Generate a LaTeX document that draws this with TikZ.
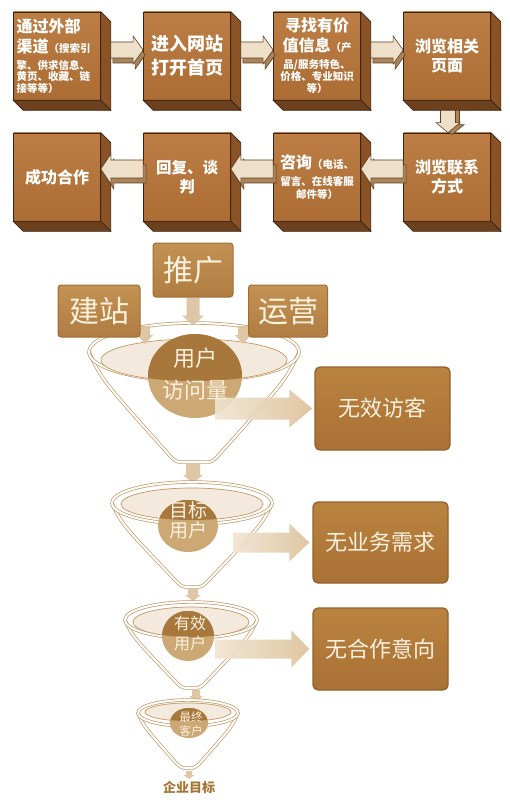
\documentclass[tikz,border=0pt]{standalone}
\usepackage{fontspec}
\setmainfont{Noto Sans CJK SC}
\usetikzlibrary{calc}
\setlength\parindent{0pt}
\setlength\parskip{0pt}
\definecolor{face}{HTML}{AC6D35}
\definecolor{facetop}{HTML}{BC7E44}
\definecolor{sidec}{HTML}{8A5326}
\definecolor{bottomc}{HTML}{6E411E}
\definecolor{edge}{HTML}{3A2312}
\definecolor{arrfill}{HTML}{EEDFC8}
\definecolor{arrside}{HTML}{A98458}
\definecolor{arredge}{HTML}{5E4026}
\definecolor{srctop}{HTML}{C29252}
\definecolor{srcbot}{HTML}{B07D42}
\definecolor{srcedge}{HTML}{A06E34}
\definecolor{restop}{HTML}{B9833F}
\definecolor{resbot}{HTML}{A97135}
\definecolor{resedge}{HTML}{93622C}
\definecolor{goldtext}{HTML}{FCF1DE}
\definecolor{fun}{HTML}{C39763}
\definecolor{funfill}{HTML}{F3EADD}
\definecolor{circdark}{HTML}{A8773C}
\definecolor{circlight}{HTML}{CCA874}
\definecolor{bigarr}{HTML}{DCC099}
\definecolor{bigarrl}{HTML}{F1E4D1}
\definecolor{smallarr}{HTML}{DCC19C}
\definecolor{targettext}{HTML}{A37434}
\tikzset{
  face/.style={draw=edge, line width=0.7pt, top color=facetop, bottom color=face,
    minimum width=87pt, minimum height=88pt, inner sep=0pt, text width=81pt,
    text=white, font=\bfseries},
  sideface/.style={fill=sidec, draw=edge, line width=0.7pt},
  botface/.style={fill=bottomc, draw=edge, line width=0.7pt},
  toparrow/.style={fill=arrfill, draw=arredge, line width=0.6pt},
  toparrowside/.style={fill=arrside, draw=arredge, line width=0.6pt},
  srcbox/.style={draw=srcedge, line width=1pt, top color=srctop, bottom color=srcbot,
    rounded corners=3pt, text=goldtext, font=\fontsize{30}{32}\selectfont, inner sep=0pt},
  resbox/.style={draw=resedge, line width=1.3pt, top color=restop, bottom color=resbot,
    rounded corners=5pt, text=goldtext, font=\fontsize{22}{24}\selectfont, inner sep=0pt,
    minimum width=135pt},
  funline/.style={draw=fun, line width=0.7pt, double=white, double distance=2pt},
  funinner/.style={fill=funfill, draw=fun, line width=0.7pt},
  circtext/.style={text=goldtext, align=center, inner sep=0pt},
  smallarrow/.style={fill=smallarr, fill opacity=0.9},
  bigarrow/.style={left color=bigarrl, right color=bigarr, fill opacity=0.9},
}
\newcommand\cubesides[1]{%
  \draw[sideface] (#1.north east) -- ++(10,10) -- ($(#1.south east)+(10,10)$) -- (#1.south east) -- cycle;
  \draw[botface] (#1.south west) -- ++(10,10) -- ($(#1.south east)+(10,10)$) -- (#1.south east) -- cycle;
}
\newcommand\tdRarrow[2]{%
  \path[toparrowside] let \p1=(#1), \p2=(#2) in
    ({\x1+2pt},{\y1+3pt}) -- ({\x2-8pt},{\y1+3pt}) -- ({\x2-8pt},{\y1+9pt}) -- ({\x2+2pt},{\y1-5pt})
    -- ({\x2-8pt},{\y1-19pt}) -- ({\x2-8pt},{\y1-13pt}) -- ({\x1+2pt},{\y1-13pt}) -- cycle;
  \path[toparrow] let \p1=(#1), \p2=(#2) in
    (\x1,{\y1+8pt}) -- ({\x2-10pt},{\y1+8pt}) -- ({\x2-10pt},{\y1+14pt}) -- (\x2,\y1)
    -- ({\x2-10pt},{\y1-14pt}) -- ({\x2-10pt},{\y1-8pt}) -- (\x1,{\y1-8pt}) -- cycle;
}
\newcommand\tdLarrow[2]{%
  \path[toparrowside] let \p1=(#1), \p2=(#2) in
    ({\x1+3pt},{\y1+4pt}) -- ({\x2+13pt},{\y1+4pt}) -- ({\x2+13pt},{\y1+10pt}) -- ({\x2+3pt},{\y1-5pt})
    -- ({\x2+13pt},{\y1-20pt}) -- ({\x2+13pt},{\y1-14pt}) -- ({\x1+3pt},{\y1-14pt}) -- cycle;
  \path[toparrow] let \p1=(#1), \p2=(#2) in
    (\x1,{\y1+9pt}) -- ({\x2+10pt},{\y1+9pt}) -- ({\x2+10pt},{\y1+15pt}) -- (\x2,\y1)
    -- ({\x2+10pt},{\y1-15pt}) -- ({\x2+10pt},{\y1-9pt}) -- (\x1,{\y1-9pt}) -- cycle;
}
\newcommand\tdDarrow[2]{%
  \path[toparrowside] let \p1=(#1), \p2=(#2) in
    ({\x1-3.5pt},\y1) -- ({\x1-3.5pt},{\y2+8pt}) -- ({\x1-8pt},{\y2+8pt}) -- ({\x1+4pt},{\y2-2pt})
    -- ({\x1+16pt},{\y2+8pt}) -- ({\x1+11.5pt},{\y2+8pt}) -- ({\x1+11.5pt},\y1) -- cycle;
  \path[toparrow] let \p1=(#1), \p2=(#2) in
    ({\x1-7.5pt},\y1) -- ({\x1-7.5pt},{\y2+10pt}) -- ({\x1-12pt},{\y2+10pt}) -- (\x1,\y2)
    -- ({\x1+12pt},{\y2+10pt}) -- ({\x1+7.5pt},{\y2+10pt}) -- ({\x1+7.5pt},\y1) -- cycle;
}
\newcommand\flatDarrow[5]{%
  \path[smallarrow] let \p1=(#1), \p2=(#2) in
    ({\x1-#3pt},\y1) -- ({\x1-#3pt},{\y2+#5pt}) -- ({\x1-#4pt},{\y2+#5pt}) -- (\x1,\y2)
    -- ({\x1+#4pt},{\y2+#5pt}) -- ({\x1+#3pt},{\y2+#5pt}) -- ({\x1+#3pt},\y1) -- cycle;
}
\newcommand\bigRarrow[5]{%
  \path[bigarrow] let \p1=(#1), \p2=(#2) in
    (\x1,{\y2+#3pt}) -- ({\x2-#5pt},{\y2+#3pt}) -- ({\x2-#5pt},{\y2+#4pt}) -- (\x2,\y2)
    -- ({\x2-#5pt},{\y2-#4pt}) -- ({\x2-#5pt},{\y2-#3pt}) -- (\x1,{\y2-#3pt}) -- cycle;
}
% #1 cx #2 rim cy #3 rim rx #4 rim ry #5 inner cy #6 inner rx #7 inner ry #8 bottom y #9 bottom half width
\newcommand\funnel[9]{%
  \draw[funline] ({#1-#3},#2) .. controls ({#1-#3+0.12*#3},{#2+0.25*(#8-#2)}) .. ({#1-#9-5},{#8-4})
    .. controls ({#1-#9},#8) .. ({#1-#9+5},#8) -- ({#1+#9-5},#8)
    .. controls ({#1+#9},#8) .. ({#1+#9+5},{#8-4})
    .. controls ({#1+#3-0.12*#3},{#2+0.25*(#8-#2)}) .. ({#1+#3},#2);
  \draw[funline] (#1,#2) ellipse [x radius=#3, y radius=#4];
  \path[funinner] (#1,#5) ellipse [x radius=#6, y radius=#7];
}
% #1 cx #2 cy #3 rx #4 ry ; #5 clip cx #6 clip cy #7 clip rx #8 clip ry
\newcommand\ball[8]{%
  \fill[circlight] (#1,#2) ellipse [x radius=#3, y radius=#4];
  \begin{scope}
    \clip (#5,#6) ellipse [x radius=#7, y radius=#8];
    \fill[circdark] (#1,#2) ellipse [x radius=#3, y radius=#4];
  \end{scope}
  \begin{scope}
    \clip ({#1-#3-2},{#2-#4-2}) rectangle ({#1+#3+2},#6);
    \fill[circdark] (#1,#2) ellipse [x radius=#3, y radius=#4];
  \end{scope}
}
\begin{document}
\begin{tikzpicture}[x=1pt,y=-1pt]
\useasboundingbox[fill=white] (0,0) rectangle (510,805);

% ---------- top process: row 1 ----------
\node[face, align=left] (b1) at (57,56) {%
  {\fontsize{16}{20}\selectfont 通过外部\par}%
  {\fontsize{16}{20}\selectfont 渠道{\fontsize{10.5}{12}\selectfont （搜索引}\par}%
  {\fontsize{10.5}{17}\selectfont 擎、供求信息、\par}%
  {\fontsize{10.5}{11.5}\selectfont 黄页、收藏、链\par}%
  {\fontsize{10.5}{11.5}\selectfont 接等等）\par}};
\cubesides{b1}
\node[face, align=center, font=\bfseries\fontsize{18}{24}\selectfont] (b2) at (187,56) {进入网站\\打开首页};
\cubesides{b2}
\node[face, align=center] (b3) at (317,56) {%
  {\fontsize{16}{20}\selectfont 寻找有价\par}%
  {\fontsize{16}{20}\selectfont 值信息{\fontsize{10.5}{12}\selectfont （产}\par}%
  {\fontsize{10.5}{17}\selectfont 品/服务特色、\par}%
  {\fontsize{10.5}{11.5}\selectfont 价格、专业知识\par}%
  {\fontsize{10.5}{12.5}\selectfont 等）\par}};
\cubesides{b3}
\node[face, align=center, font=\bfseries\fontsize{16}{19}\selectfont] (b4) at (447,56) {浏览相关\\页面};
\cubesides{b4}

% ---------- row 2 ----------
\node[face, align=center, font=\bfseries\fontsize{16}{19}\selectfont] (b5) at (447,177) {浏览联系\\方式};
\cubesides{b5}
\node[face, align=center] (b6) at (317,177) {%
  {\fontsize{16}{20}\selectfont 咨询{\fontsize{10.5}{12}\selectfont （电话、}\par}%
  {\fontsize{10.5}{17}\selectfont 留言、在线客服\par}%
  {\fontsize{10.5}{13}\selectfont 邮件等）\par}};
\cubesides{b6}
\node[face, align=center, font=\bfseries\fontsize{15.5}{19}\selectfont] (b7) at (187,177) {回复、谈\\判};
\cubesides{b7}
\node[face, align=center, font=\bfseries\fontsize{16}{19}\selectfont] (b8) at (57,177) {成功合作};
\cubesides{b8}

% ---------- top arrows ----------
\tdRarrow{$(b1.east)+(10,-6)$}{$(b2.west)+(0,-6)$}
\tdRarrow{$(b2.east)+(10,-6)$}{$(b3.west)+(0,-6)$}
\tdRarrow{$(b3.east)+(10,-6)$}{$(b4.west)+(0,-6)$}
\tdDarrow{$(b4.south)+(1,10)$}{$(b5.north)+(1,0)$}
\tdLarrow{$(b5.west)+(0,-8)$}{$(b6.east)+(0,-8)$}
\tdLarrow{$(b6.west)+(0,-8)$}{$(b7.east)+(0,-8)$}
\tdLarrow{$(b7.west)+(0,-8)$}{$(b8.east)+(0,-8)$}

% ---------- funnel 1 ----------
\funnel{194}{352}{105}{29}{360}{93}{21}{462}{17}
\ball{195}{376}{47}{42}{194}{360}{93}{21}
\flatDarrow{145,326}{145,344}{5}{8}{9}
\flatDarrow{243,326}{243,344}{5}{8}{9}
\node[srcbox, minimum width=80pt, minimum height=54pt] (tg) at (193,270) {推广};
\node[srcbox, minimum width=82pt, minimum height=52pt] (jz) at (99,311) {建站};
\node[srcbox, minimum width=79pt, minimum height=52pt] (yy) at (288,311) {运营};
\flatDarrow{$(tg.south)+(0,0.5)$}{$(tg.south)+(0,28)$}{6.5}{11}{10}
\node[resbox, minimum height=83pt] (r1) at (382.5,408.5) {无效访客};
\coordinate (a1s) at (215,409);
\bigRarrow{a1s}{$(r1.west)+(-2,0)$}{11}{19}{23}
\node[circtext, font=\fontsize{22}{32}\selectfont] (c1) at (195,374) {用户\\访问量};

% ---------- funnel 2 ----------
\coordinate (f1b) at (193,464);
\coordinate (f2t) at (193,483);
\flatDarrow{f1b}{f2t}{7}{10}{8}
\funnel{192}{503}{80}{21}{504}{71}{16}{587}{9}
\ball{188}{526}{30}{26}{192}{504}{71}{16}
\node[resbox, minimum height=81pt] (r2) at (380.5,542.5) {无业务需求};
\coordinate (a2s) at (233,543);
\bigRarrow{a2s}{$(r2.west)+(-3,0)$}{10}{19}{20}
\node[circtext, font=\fontsize{19}{20}\selectfont] (c2) at (188,520) {目标\\用户};

% ---------- funnel 3 ----------
\coordinate (f2b) at (193,589);
\coordinate (f3t) at (193,601);
\flatDarrow{f2b}{f3t}{5}{8}{6}
\funnel{191}{620}{66}{18}{622}{58}{15}{688}{8}
\ball{188}{636}{26}{25}{191}{622}{58}{15}
\node[resbox, minimum height=82pt] (r3) at (380.5,649) {无合作意向};
\coordinate (a3s) at (215,649);
\bigRarrow{a3s}{$(r3.west)+(-3,0)$}{9.5}{18.5}{18}
\node[circtext, font=\fontsize{16}{20}\selectfont] (c3) at (190,633) {有效\\用户};

% ---------- funnel 4 ----------
\coordinate (f3b) at (196,690);
\coordinate (f4t) at (196,701);
\flatDarrow{f3b}{f4t}{4}{7}{5}
\funnel{188}{713}{50}{13}{712}{43}{9}{768}{6}
\ball{189}{723}{19}{15}{188}{712}{43}{9}
\node[circtext, font=\fontsize{11.5}{14}\selectfont] (c4) at (191,724) {最终\\客户};
\coordinate (f4b) at (189,771);
\coordinate (gt) at (189,779);
\flatDarrow{f4b}{gt}{3}{5.5}{4}
\node[font=\bfseries\fontsize{13}{15}\selectfont, text=targettext, inner sep=0pt] (goal) at (189,787) {企业目标};
\end{tikzpicture}
\end{document}
